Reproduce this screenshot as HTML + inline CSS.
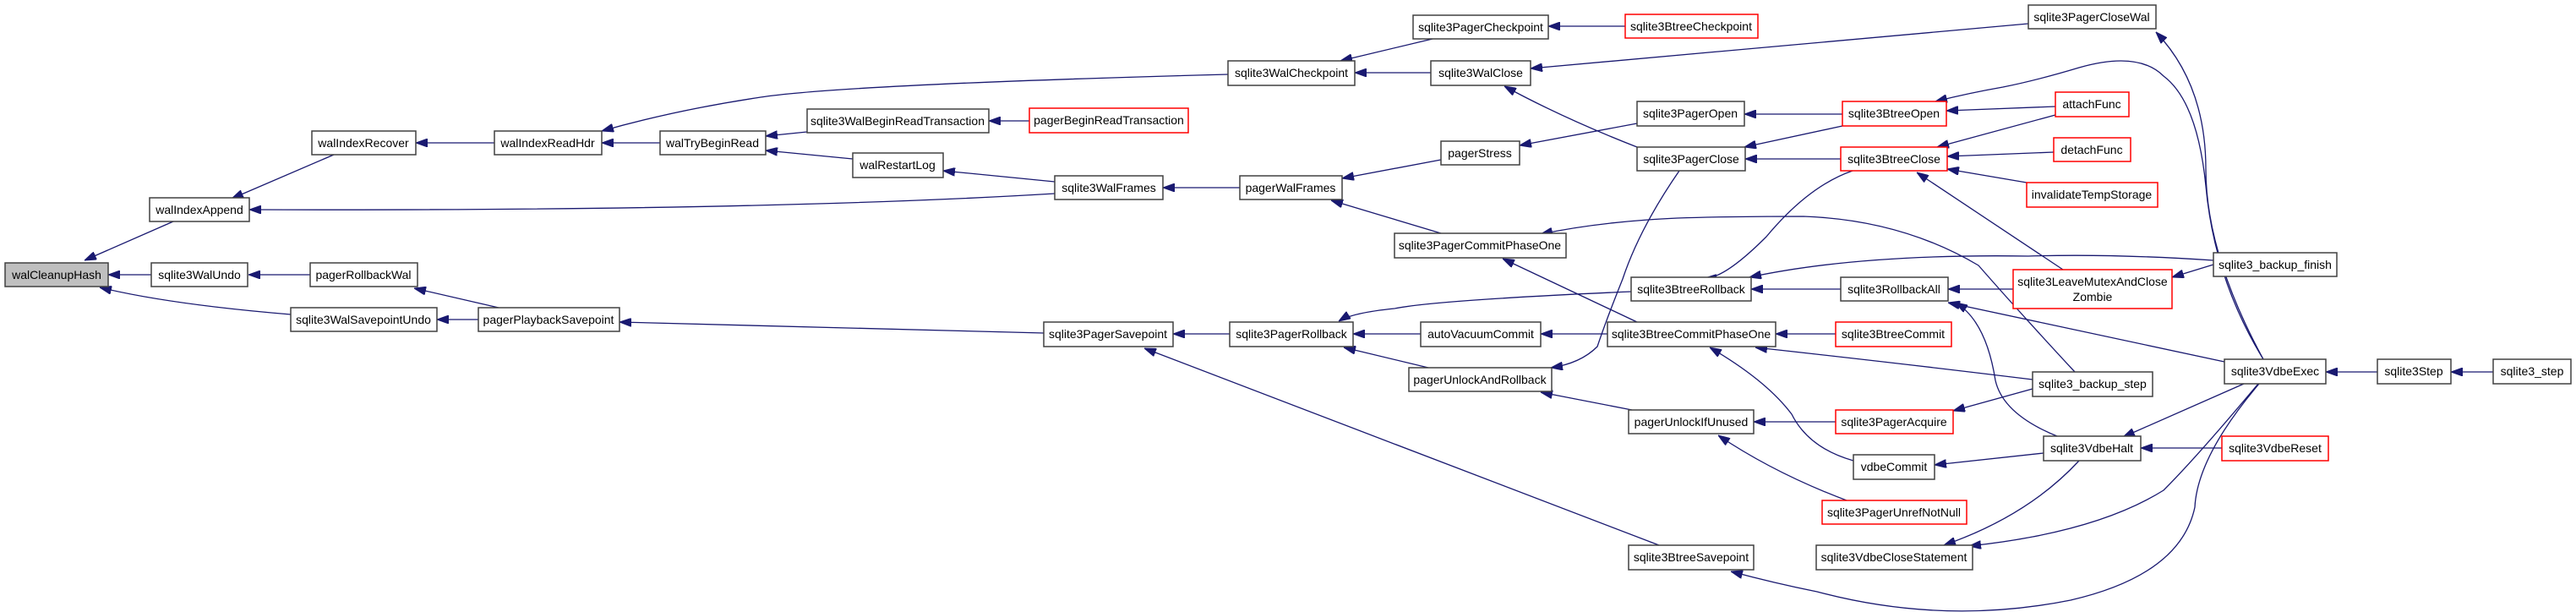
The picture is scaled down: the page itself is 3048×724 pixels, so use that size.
<!DOCTYPE html>
<html><head><meta charset="utf-8"><style>
html,body{margin:0;padding:0;background:#fff;}
svg{display:block;}
text{font-family:"Liberation Sans",sans-serif;font-size:14px;fill:#000;text-anchor:middle;dominant-baseline:central;}
.n{fill:#fff;stroke:#404040;stroke-width:1.5;}
.r{fill:#fff;stroke:#ff0000;stroke-width:1.5;}
.g{fill:#bfbfbf;stroke:#404040;stroke-width:1.5;}
path{fill:none;stroke:#191970;stroke-width:1.3;}
</style></head><body>
<svg width="3048" height="724" viewBox="0 0 3048 724" xmlns="http://www.w3.org/2000/svg">
<defs><marker id="a" viewBox="0 0 14 10" refX="14" refY="5" markerWidth="14" markerHeight="10" markerUnits="userSpaceOnUse" orient="auto"><path d="M0,0L14,5L0,10z" style="fill:#191970;stroke:#191970;stroke-width:1"/></marker></defs>
<g marker-end="url(#a)">
<path d="M205,262L100,308"/>
<path d="M179,325L128,325"/>
<path d="M344,372Q200,360 118,340"/>
<path d="M395,183L274,235"/>
<path d="M1248,229Q900,250 295,248"/>
<path d="M585,169L492,169"/>
<path d="M781,169L712,169"/>
<path d="M1453,88Q1000,100 900,115Q800,130 712,155"/>
<path d="M955,156L906,161"/>
<path d="M1009,188L906,178"/>
<path d="M367,325L294,325"/>
<path d="M590,364L490,341"/>
<path d="M566,378L517,378"/>
<path d="M1235,394L733,381"/>
<path d="M1218,143L1170,143"/>
<path d="M1248,215L1116,202"/>
<path d="M1467,222L1376,222"/>
<path d="M1695,46L1586,72"/>
<path d="M1693,86L1603,86"/>
<path d="M1923,31L1832,31"/>
<path d="M2400,28L1811,81"/>
<path d="M1937,174Q1850,140 1780,102"/>
<path d="M1705,189L1588,211"/>
<path d="M1705,276L1575,237"/>
<path d="M1937,146L1798,172"/>
<path d="M2180,135L2064,135"/>
<path d="M2178,188L2065,188"/>
<path d="M2180,149L2064,174"/>
<path d="M2432,126L2303,131"/>
<path d="M2432,136L2292,174"/>
<path d="M2430,180L2304,185"/>
<path d="M2398,216L2304,200"/>
<path d="M2678,425Q2620,330 2610,220Q2600,120 2560,90Q2530,60 2460,80Q2410,95 2370,103Q2330,110 2290,120"/>
<path d="M2678,425Q2610,300 2610,200Q2610,100 2551,38"/>
<path d="M1987,202Q1940,270 1920,330Q1900,380 1890,410Q1870,430 1835,435"/>
<path d="M2192,202Q2140,220 2090,280Q2040,330 2017,329"/>
<path d="M2441,319L2268,204"/>
<path d="M2619,308Q2500,300 2400,303Q2200,300 2070,328"/>
<path d="M2619,313L2570,328"/>
<path d="M2178,342L2072,342"/>
<path d="M2382,342L2305,342"/>
<path d="M2632,428L2305,358"/>
<path d="M2434,516Q2370,490 2361,450Q2350,380 2314,358"/>
<path d="M2455,440Q2390,370 2341,314Q2250,260 2134,256Q2000,256 1950,260Q1880,265 1823,277"/>
<path d="M1937,381L1778,306"/>
<path d="M1930,345Q1700,355 1650,365Q1600,370 1584,380"/>
<path d="M1681,395L1601,395"/>
<path d="M1690,435L1590,411"/>
<path d="M1455,395L1388,395"/>
<path d="M1963,645L1354,412"/>
<path d="M1902,395L1823,395"/>
<path d="M1931,485L1823,464"/>
<path d="M2172,395L2101,395"/>
<path d="M2405,449Q2250,430 2077,411"/>
<path d="M2193,545Q2140,530 2120,490Q2090,450 2023,411"/>
<path d="M2172,499L2075,499"/>
<path d="M2185,592Q2100,560 2033,515"/>
<path d="M2405,460L2311,486"/>
<path d="M2418,536L2289,550"/>
<path d="M2629,530L2533,530"/>
<path d="M2655,454L2512,517"/>
<path d="M2460,545Q2400,610 2300,645"/>
<path d="M2672,454Q2600,540 2560,580Q2480,630 2330,646"/>
<path d="M2673,454Q2600,540 2597,600Q2580,680 2450,710Q2300,740 2150,700Q2100,690 2048,676"/>
<path d="M2813,440L2752,440"/>
<path d="M2950,440L2900,440"/>
</g>
<rect class="g" x="6" y="311" width="122" height="28"/><text x="67" y="325">walCleanupHash</text>
<rect class="n" x="369" y="155" width="123" height="28"/><text x="430" y="169">walIndexRecover</text>
<rect class="n" x="585" y="155" width="127" height="28"/><text x="648" y="169">walIndexReadHdr</text>
<rect class="n" x="781" y="155" width="125" height="28"/><text x="843" y="169">walTryBeginRead</text>
<rect class="n" x="955" y="129" width="215" height="28"/><text x="1062" y="143">sqlite3WalBeginReadTransaction</text>
<rect class="n" x="177" y="234" width="118" height="28"/><text x="236" y="248">walIndexAppend</text>
<rect class="n" x="179" y="311" width="114" height="28"/><text x="236" y="325">sqlite3WalUndo</text>
<rect class="n" x="367" y="311" width="127" height="28"/><text x="430" y="325">pagerRollbackWal</text>
<rect class="n" x="344" y="364" width="173" height="28"/><text x="430" y="378">sqlite3WalSavepointUndo</text>
<rect class="n" x="566" y="364" width="167" height="28"/><text x="649" y="378">pagerPlaybackSavepoint</text>
<rect class="n" x="1672" y="18" width="160" height="28"/><text x="1752" y="32">sqlite3PagerCheckpoint</text>
<rect class="r" x="1923" y="17" width="157" height="28"/><text x="2001" y="31">sqlite3BtreeCheckpoint</text>
<rect class="n" x="1453" y="72" width="150" height="29"/><text x="1528" y="86">sqlite3WalCheckpoint</text>
<rect class="n" x="1693" y="72" width="118" height="29"/><text x="1752" y="86">sqlite3WalClose</text>
<rect class="r" x="1218" y="128" width="188" height="29"/><text x="1312" y="142">pagerBeginReadTransaction</text>
<rect class="n" x="1009" y="181" width="107" height="29"/><text x="1062" y="195">walRestartLog</text>
<rect class="n" x="1248" y="208" width="128" height="28"/><text x="1312" y="222">sqlite3WalFrames</text>
<rect class="n" x="1467" y="208" width="121" height="28"/><text x="1527" y="222">pagerWalFrames</text>
<rect class="n" x="1705" y="167" width="93" height="28"/><text x="1751" y="181">pagerStress</text>
<rect class="n" x="1650" y="276" width="203" height="29"/><text x="1751" y="290">sqlite3PagerCommitPhaseOne</text>
<rect class="n" x="1235" y="381" width="153" height="29"/><text x="1311" y="395">sqlite3PagerSavepoint</text>
<rect class="n" x="1455" y="381" width="146" height="29"/><text x="1528" y="395">sqlite3PagerRollback</text>
<rect class="n" x="1681" y="381" width="142" height="29"/><text x="1752" y="395">autoVacuumCommit</text>
<rect class="n" x="1667" y="435" width="169" height="28"/><text x="1751" y="449">pagerUnlockAndRollback</text>
<rect class="n" x="2400" y="6" width="151" height="28"/><text x="2475" y="20">sqlite3PagerCloseWal</text>
<rect class="n" x="1937" y="120" width="127" height="29"/><text x="2000" y="134">sqlite3PagerOpen</text>
<rect class="n" x="1937" y="174" width="128" height="28"/><text x="2001" y="188">sqlite3PagerClose</text>
<rect class="r" x="2180" y="120" width="123" height="29"/><text x="2241" y="134">sqlite3BtreeOpen</text>
<rect class="r" x="2178" y="174" width="126" height="28"/><text x="2241" y="188">sqlite3BtreeClose</text>
<rect class="r" x="2432" y="109" width="87" height="29"/><text x="2475" y="123">attachFunc</text>
<rect class="r" x="2430" y="163" width="91" height="28"/><text x="2475" y="177">detachFunc</text>
<rect class="r" x="2398" y="216" width="155" height="29"/><text x="2475" y="230">invalidateTempStorage</text>
<rect class="n" x="1930" y="328" width="142" height="28"/><text x="2001" y="342">sqlite3BtreeRollback</text>
<rect class="n" x="2178" y="328" width="127" height="28"/><text x="2241" y="342">sqlite3RollbackAll</text>
<rect class="r" x="2382" y="319" width="188" height="46"/><text x="2476" y="333">sqlite3LeaveMutexAndClose</text><text x="2476" y="351">Zombie</text>
<rect class="n" x="2619" y="299" width="146" height="28"/><text x="2692" y="313">sqlite3_backup_finish</text>
<rect class="n" x="1902" y="381" width="199" height="29"/><text x="2001" y="395">sqlite3BtreeCommitPhaseOne</text>
<rect class="r" x="2172" y="381" width="137" height="29"/><text x="2240" y="395">sqlite3BtreeCommit</text>
<rect class="n" x="2405" y="440" width="142" height="29"/><text x="2476" y="454">sqlite3_backup_step</text>
<rect class="n" x="2632" y="425" width="120" height="29"/><text x="2692" y="439">sqlite3VdbeExec</text>
<rect class="n" x="2813" y="425" width="87" height="29"/><text x="2856" y="439">sqlite3Step</text>
<rect class="n" x="2950" y="425" width="92" height="29"/><text x="2996" y="439">sqlite3_step</text>
<rect class="n" x="1927" y="485" width="148" height="28"/><text x="2001" y="499">pagerUnlockIfUnused</text>
<rect class="r" x="2172" y="485" width="139" height="28"/><text x="2241" y="499">sqlite3PagerAcquire</text>
<rect class="n" x="2418" y="516" width="115" height="29"/><text x="2475" y="530">sqlite3VdbeHalt</text>
<rect class="r" x="2629" y="516" width="126" height="29"/><text x="2692" y="530">sqlite3VdbeReset</text>
<rect class="n" x="2193" y="538" width="96" height="29"/><text x="2241" y="552">vdbeCommit</text>
<rect class="r" x="2156" y="592" width="171" height="28"/><text x="2241" y="606">sqlite3PagerUnrefNotNull</text>
<rect class="n" x="1927" y="645" width="148" height="29"/><text x="2001" y="659">sqlite3BtreeSavepoint</text>
<rect class="n" x="2149" y="645" width="185" height="29"/><text x="2241" y="659">sqlite3VdbeCloseStatement</text>
</svg>
</body></html>
